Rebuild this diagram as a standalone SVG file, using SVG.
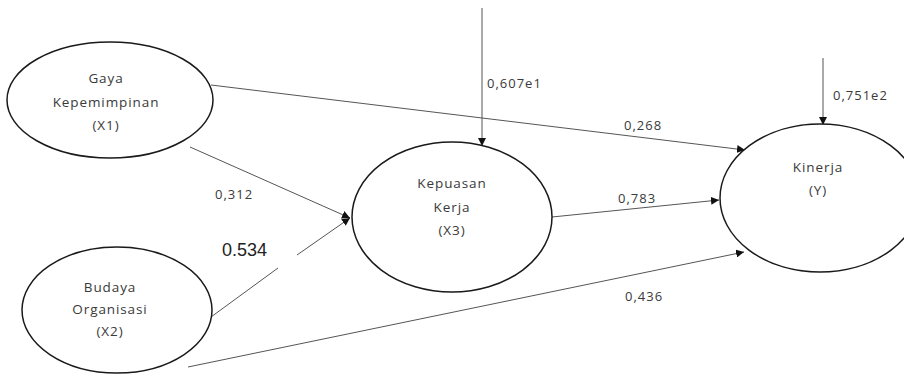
<svg xmlns="http://www.w3.org/2000/svg" width="904" height="376" viewBox="0 0 904 376">
  <style>
    .node ellipse { fill: #ffffff; stroke: #1a1a1a; stroke-width: 1.5; }
    .node text { font-family: "Open Sans", "DejaVu Sans", sans-serif; font-size: 13.5px; fill: #3a3a3a; text-anchor: middle; letter-spacing: 0.9px; }
    .edge { stroke: #555555; stroke-width: 1; fill: none; }
    .lbl { font-family: "Open Sans", "DejaVu Sans", sans-serif; font-size: 13px; fill: #3a3a3a; letter-spacing: 1px; }
    .big { font-family: "Liberation Sans", Arial, sans-serif; font-size: 18px; fill: #222222; }
  </style>
  <defs>
    <marker id="arrow" viewBox="0 0 10 10" refX="10" refY="5" markerWidth="8" markerHeight="8" markerUnits="userSpaceOnUse" orient="auto">
      <path d="M0,0 L10,5 L0,10 z" fill="#111111"/>
    </marker>
  </defs>
  <rect width="904" height="376" fill="#ffffff"/>

  <!-- connectors -->
  <g id="connectors">
    <line class="edge" x1="211" y1="85" x2="745" y2="150" marker-end="url(#arrow)"/>
    <line class="edge" x1="190" y1="147" x2="350" y2="218" marker-end="url(#arrow)"/>
    <line class="edge" x1="211" y1="317" x2="278" y2="268"/>
    <line class="edge" x1="297" y1="255" x2="350" y2="218" marker-end="url(#arrow)"/>
    <line class="edge" x1="552" y1="217" x2="719" y2="200" marker-end="url(#arrow)"/>
    <line class="edge" x1="188" y1="367" x2="744" y2="252" marker-end="url(#arrow)"/>
    <line class="edge" x1="482" y1="8" x2="482" y2="146" marker-end="url(#arrow)"/>
    <line class="edge" x1="823" y1="58" x2="823" y2="125" marker-end="url(#arrow)"/>
    <text class="lbl" x="624" y="130">0,268</text>
    <text class="lbl" x="215" y="199">0,312</text>
    <text class="big" x="222" y="256">0.534</text>
    <text class="lbl" x="618" y="203">0,783</text>
    <text class="lbl" x="625" y="301">0,436</text>
    <text class="lbl" x="487" y="88">0,607e1</text>
    <text class="lbl" x="833" y="100">0,751e2</text>
  </g>

  <g id="x1" class="node">
    <ellipse cx="110" cy="100" rx="103" ry="58"/>
    <text x="106" y="83">Gaya</text>
    <text x="106" y="107">Kepemimpinan</text>
    <text x="106" y="130">(X1)</text>
  </g>

  <g id="x2" class="node">
    <ellipse cx="117" cy="310" rx="95" ry="63"/>
    <text x="110" y="292">Budaya</text>
    <text x="110" y="314">Organisasi</text>
    <text x="110" y="336">(X2)</text>
  </g>

  <g id="x3" class="node">
    <ellipse cx="452" cy="217" rx="100" ry="75"/>
    <text x="452" y="188">Kepuasan</text>
    <text x="452" y="212">Kerja</text>
    <text x="452" y="235">(X3)</text>
  </g>

  <g id="y" class="node">
    <ellipse cx="820" cy="198" rx="100" ry="74"/>
    <text x="818" y="172">Kinerja</text>
    <text x="818" y="195">(Y)</text>
  </g>
</svg>
